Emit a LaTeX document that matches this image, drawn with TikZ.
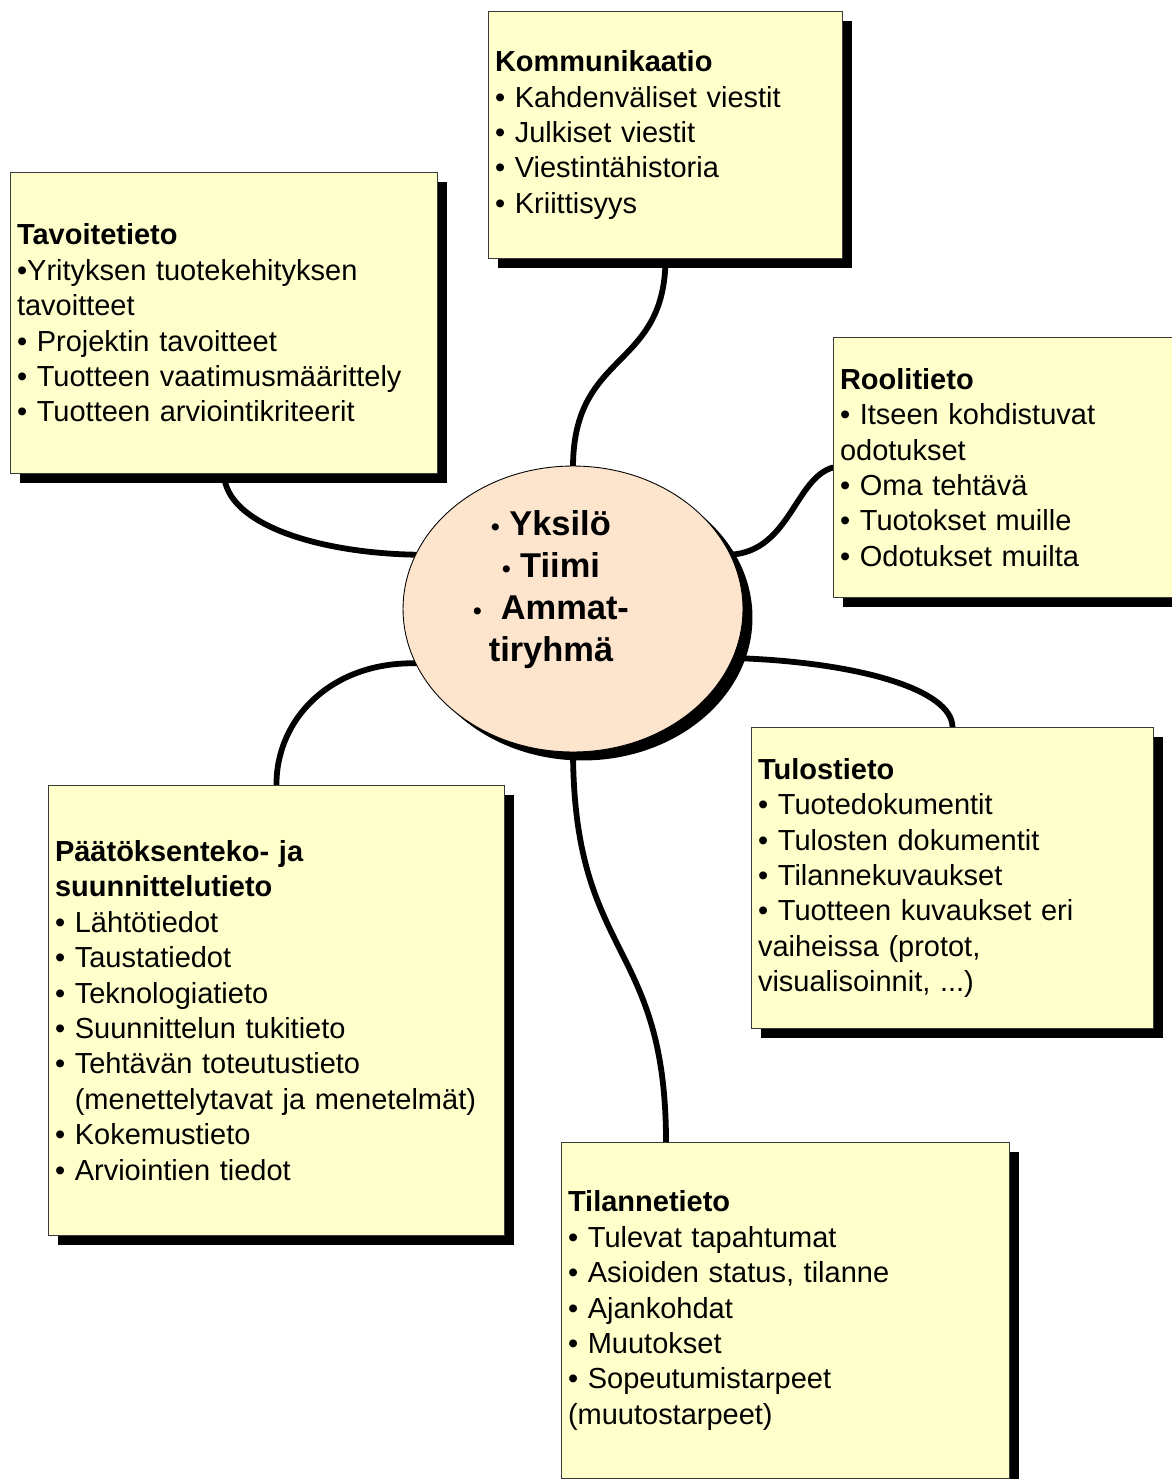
\documentclass[tikz,border=0pt]{standalone}
\usepackage{fontspec}
\setmainfont{Liberation Sans}
\usepackage{tikz}
\usetikzlibrary{calc,shadows,shapes.geometric,backgrounds}
\definecolor{cNote}{HTML}{FFFFCC}
\definecolor{cPeach}{HTML}{FDE4CD}
\definecolor{cEdge}{HTML}{3A3A3A}
\newcommand{\hubbul}{{\fontsize{14pt}{14pt}\selectfont •}}
\tikzset{
  note/.style 2 args={draw=cEdge,fill=cNote,line width=0.6pt,anchor=north west,align=left,
    text width=#1,minimum height=#2,inner xsep=0.13cm,inner ysep=0pt,text=black,
    font=\fontsize{16.5pt}{20.15pt}\selectfont,
    drop shadow={shadow xshift=0.19cm,shadow yshift=-0.19cm,opacity=1,fill=black}},
  hub/.style={ellipse,draw=black,line width=0.5pt,fill=cPeach,minimum width=6.8cm,minimum height=5.72cm,inner sep=0pt,
    drop shadow={shadow xshift=0.19cm,shadow yshift=-0.17cm,opacity=1,fill=black}},
  hublbl/.style={align=center,font=\bfseries\fontsize{19.6pt}{23.9pt}\selectfont,inner sep=0pt},
  link/.style={line width=3.3pt,line cap=round,draw=black},
}

\begin{document}
\begin{tikzpicture}[x=0.02cm,y=-0.02cm]
  \useasboundingbox (0,0) rectangle (1171,1479);
  \node[note={6.82cm}{4.94cm}] (komm) at (488,11)
    {{\bfseries Kommunikaatio}\\• Kahdenväliset viestit\\• Julkiset viestit\\• Viestintähistoria\\• Kriittisyys};
  \node[note={8.28cm}{6.02cm}] (tav) at (10,172)
    {{\bfseries Tavoitetieto}\\•Yrityksen tuotekehityksen\\tavoitteet\\• Projektin tavoitteet\\• Tuotteen vaatimusmäärittely\\• Tuotteen arviointikriteerit};
  \node[note={6.94cm}{5.20cm}] (rol) at (833,337)
    {{\bfseries Roolitieto}\\• Itseen kohdistuvat\\odotukset\\• Oma tehtävä\\• Tuotokset muille\\• Odotukset muilta};
  \node[note={7.78cm}{6.02cm}] (tul) at (751,727)
    {{\bfseries Tulostieto}\\• Tuotedokumentit\\• Tulosten dokumentit\\• Tilannekuvaukset\\• Tuotteen kuvaukset eri\\vaiheissa (protot,\\visualisoinnit, ...)};
  \node[note={8.86cm}{9.00cm}] (paat) at (48,785)
    {{\bfseries Päätöksenteko- ja}\\{\bfseries suunnittelutieto}\\• Lähtötiedot\\• Taustatiedot\\• Teknologiatieto\\• Suunnittelun tukitieto\\• Tehtävän toteutustieto\\\hphantom{•\ }(menettelytavat ja menetelmät)\\• Kokemustieto\\• Arviointien tiedot};
  \node[note={8.70cm}{6.72cm}] (til) at (561,1142)
    {{\bfseries Tilannetieto}\\• Tulevat tapahtumat\\• Asioiden status, tilanne\\• Ajankohdat\\• Muutokset\\• Sopeutumistarpeet\\(muutostarpeet)};
  % centre
  \node[hub] (core) at (573,609) {};
  \node[hublbl] (corelbl) at (551,590) {\hubbul\ Yksilö\\\hubbul\ Tiimi\\\hubbul\ \ Ammat-\\tiryhmä};
  \begin{scope}[on background layer]
    \draw[link] (komm.south) .. controls (665,370) and (574,350) .. (core.north);
    \draw[link] (tav.south) .. controls (226,525) and (320,553) .. (core.161);
    \draw[link] (rol.west) .. controls (795,478) and (790,551) .. (core.19);
    \draw[link] (core.343) .. controls (860,662) and (952,690) .. (tul.north);
    \draw[link] (core.199) .. controls (330,662) and (276,720) .. (paat.north);
    \draw[link] (core.south) .. controls (574,960) and (666,940) .. ($(til.north west)+(105,0)$);
  \end{scope}
\end{tikzpicture}
\end{document}
